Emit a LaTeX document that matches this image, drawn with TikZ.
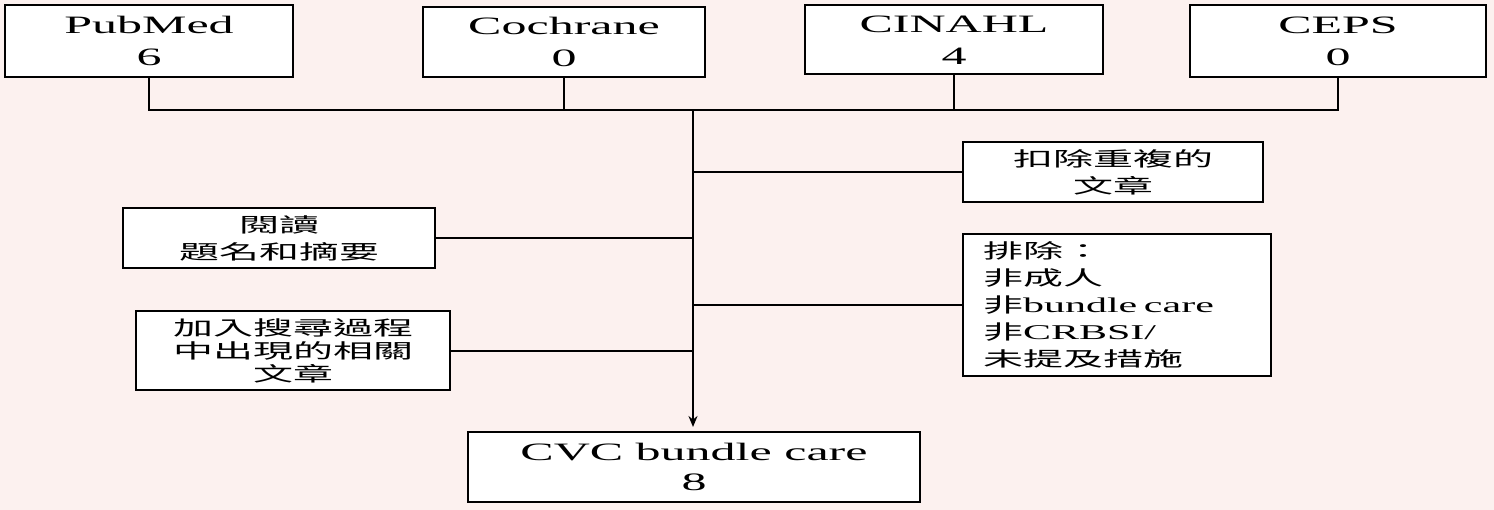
\documentclass[tikz,border=0pt]{standalone}
\usepackage{fontspec}
\setmainfont{Liberation Serif}[FakeStretch=2]
\newfontfamily\cjk{Noto Sans CJK TC}[FakeStretch=2]
\usetikzlibrary{arrows.meta}
\definecolor{bgpink}{HTML}{FCF1EF}
\tikzset{%
  dbbox/.style   = {shape=rectangle, draw, fill=white, line width=2pt,%
                    align=center, inner sep=0pt,%
                    font=\fontsize{25}{32}\selectfont},%
  stepbox/.style = {dbbox, font=\cjk\fontsize{20}{27}\selectfont},%
  link/.style    = {line width=1.4pt}%
}
\begin{document}
\begin{tikzpicture}[x=1pt,y=-1pt]
	\fill[bgpink] (0,0) rectangle (1494,510);
	\useasboundingbox (0,0) rectangle (1494,510);
	% databases
	\node[dbbox, minimum width=288pt, minimum height=72pt] (pubmed)   at (149,41)  {PubMed\\6};
	\node[dbbox, minimum width=282pt, minimum height=70pt] (cochrane) at (564,42)  {Cochrane\\0};
	\node[dbbox, minimum width=298pt, minimum height=69pt] (cinahl)   at (954,40)  {CINAHL\\4};
	\node[dbbox, minimum width=296pt, minimum height=72pt] (ceps)     at (1338,41) {CEPS\\0};
	\coordinate (hub) at (693,110);
	% screening steps
	\node[stepbox, minimum width=300pt, minimum height=60pt] (dedup) at (1113,172) {扣除重複的\\文章};
	\node[stepbox, minimum width=312pt, minimum height=60pt] (title) at (279,238)  {閱讀\\題名和摘要};
	\node[stepbox, align=left, text width=268pt, inner xsep=20pt, minimum height=142pt] (exclude) at (1117,305)
		{排除：\\非成人\\非{\rmfamily\fontsize{21}{27}\selectfont bundle care}\\非{\rmfamily\fontsize{21}{27}\selectfont CRBSI/}\\未提及措施};
	\node[stepbox, minimum width=314pt, minimum height=79pt,
	      font=\cjk\fontsize{20}{23}\selectfont] (extra) at (293,351) {加入搜尋過程\\中出現的相關\\文章};
	\node[dbbox, minimum width=452pt, minimum height=70pt,
	      font=\fontsize{25}{30}\selectfont] (result) at (694,467) {CVC bundle care\\8};
	% connectors
	\draw[link] (pubmed) -- (pubmed |- hub) -- (ceps |- hub) -- (ceps);
	\draw[link] (cochrane) -- (cochrane |- hub);
	\draw[link] (cinahl) -- (cinahl |- hub);
	\draw[link] (dedup.west) -- (dedup.west -| hub);
	\draw[link] (title.east) -- (title.east -| hub);
	\draw[link] (exclude.west) -- (exclude.west -| hub);
	\draw[link] (extra.east) -- (extra.east -| hub);
	\draw[link, line width=2.2pt, -{Stealth[length=11pt,width=9pt]}, shorten >=4pt]
		(hub) -- (hub |- result.north);
\end{tikzpicture}
\end{document}
